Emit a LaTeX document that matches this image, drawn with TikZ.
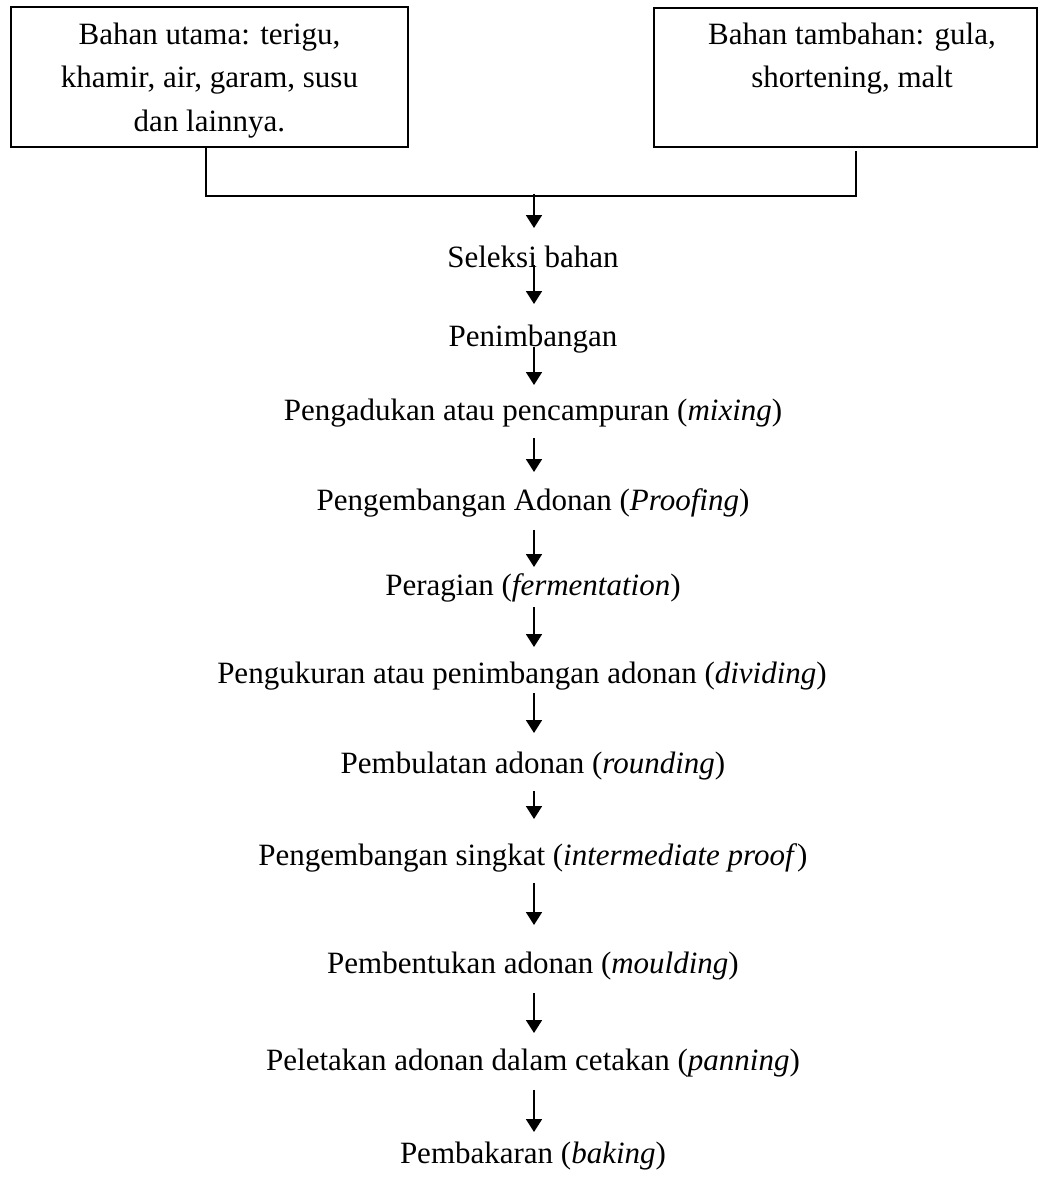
\documentclass[tikz,border=0pt]{standalone}
\usepackage{fontspec}
\setmainfont{Liberation Serif}
\usetikzlibrary{arrows.meta}
\begin{document}
\begin{tikzpicture}[x=1pt,y=-1pt,
  every node/.style={font=\fontsize{31}{43.5}\selectfont},
  stepnode/.style={anchor=base, inner sep=0pt},
  inbox/.style={draw, line width=2pt, inner sep=0pt, anchor=north west},
  link/.style={line width=1.8pt},
  flow/.style={line width=1.8pt, -{Triangle[width=16pt,length=13pt]}}]
\useasboundingbox (0,0) rectangle (1041,1178);

% ingredient boxes
\node[inbox] (main) at (10,6)
  {\parbox[c][140pt][t]{397pt}{\centering\rule{0pt}{37pt}Bahan utama: terigu,\\
   khamir, air, garam, susu\\ dan lainnya.}};
\node[inbox] (extra) at (653,7)
  {\parbox[c][139pt][t]{383pt}{\centering\rule{0pt}{36pt}\hspace*{13pt}Bahan tambahan: gula,\\
   \hspace*{13pt}shortening, malt}};

% process steps
\node[stepnode] (s1)  at (533,267)  {Seleksi bahan};
\node[stepnode] (s2)  at (533,346)  {Penimbangan};
\node[stepnode] (s3)  at (533,420)  {Pengadukan atau pencampuran (\textit{mixing})};
\node[stepnode] (s4)  at (533,510)  {Pengembangan Adonan (\textit{Proofing})};
\node[stepnode] (s5)  at (533,595)  {Peragian (\textit{fermentation})};
\node[stepnode] (s6)  at (522,683)  {Pengukuran atau penimbangan adonan (\textit{dividing})};
\node[stepnode] (s7)  at (533,773)  {Pembulatan adonan (\textit{rounding})};
\node[stepnode] (s8)  at (533,865)  {Pengembangan singkat (\textit{intermediate proof})};
\node[stepnode] (s9)  at (533,973)  {Pembentukan adonan (\textit{moulding})};
\node[stepnode] (s10) at (533,1070) {Peletakan adonan dalam cetakan (\textit{panning})};
\node[stepnode] (s11) at (533,1163) {Pembakaran (\textit{baking})};

% joining the two boxes
\coordinate (join) at (534,194);
\draw[link] ([xshift=-3.5pt]main.south) -- ++(0,48) -| ([xshift=10.5pt,yshift=-3pt]extra.south);
\draw[flow] (join) -- ([xshift=1pt,yshift=39pt]s1.base);

% flow between steps
\draw[flow] ([xshift=1pt,yshift=2pt]s1.base)   -- ([xshift=1pt,yshift=42pt]s2.base);
\draw[flow] ([xshift=1pt,yshift=-1pt]s2.base)  -- ([xshift=1pt,yshift=35pt]s3.base);
\draw[flow] ([xshift=1pt,yshift=-18pt]s3.base) -- ([xshift=1pt,yshift=38pt]s4.base);
\draw[flow] ([xshift=1pt,yshift=-20pt]s4.base) -- ([xshift=1pt,yshift=28pt]s5.base);
\draw[flow] ([xshift=1pt,yshift=-12pt]s5.base) -- ([xshift=12pt,yshift=36pt]s6.base);
\draw[flow] ([xshift=12pt,yshift=-10pt]s6.base) -- ([xshift=1pt,yshift=40pt]s7.base);
\draw[flow] ([xshift=1pt,yshift=-18pt]s7.base) -- ([xshift=1pt,yshift=46pt]s8.base);
\draw[flow] ([xshift=1pt,yshift=-18pt]s8.base) -- ([xshift=1pt,yshift=48pt]s9.base);
\draw[flow] ([xshift=1pt,yshift=-20pt]s9.base) -- ([xshift=1pt,yshift=37pt]s10.base);
\draw[flow] ([xshift=1pt,yshift=-20pt]s10.base) -- ([xshift=1pt,yshift=31pt]s11.base);
\end{tikzpicture}
\end{document}
